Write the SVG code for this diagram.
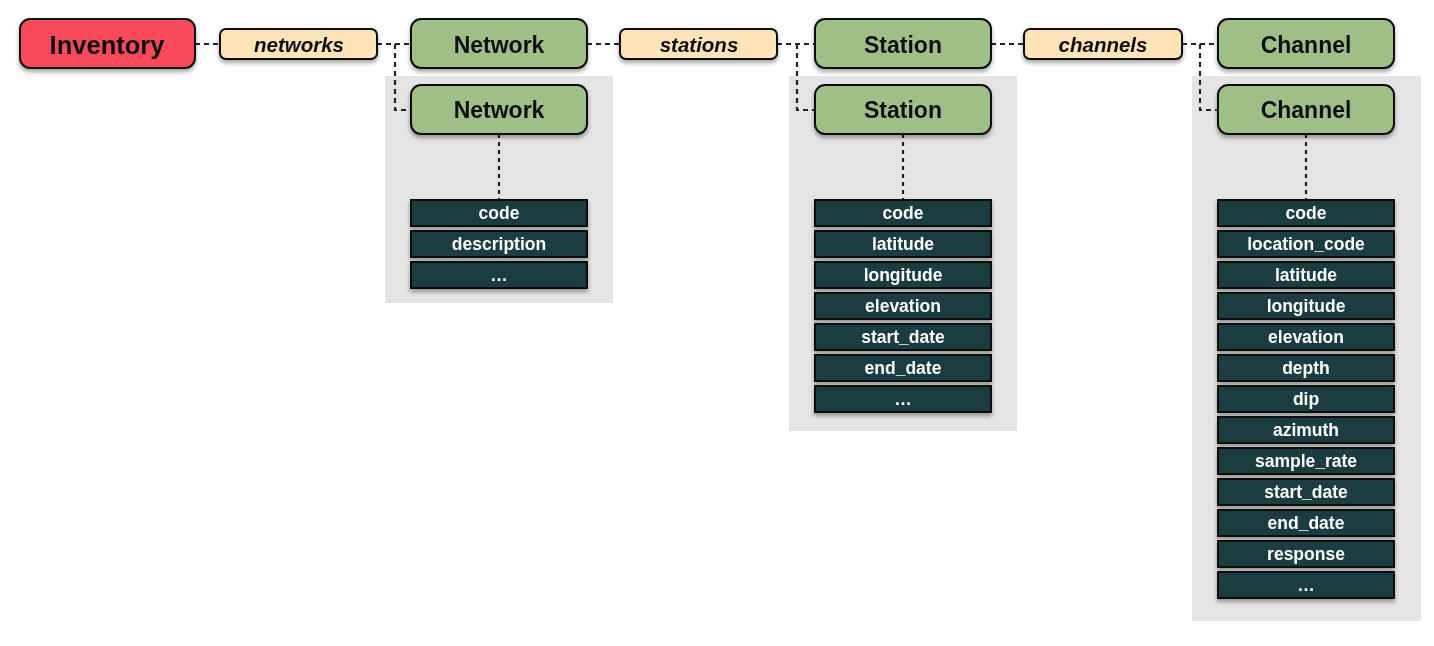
<svg xmlns="http://www.w3.org/2000/svg" width="1434" height="646" viewBox="0 0 1434 646">
<style>
.node{stroke:#111;stroke-width:2}
.inv{fill:#f84a5a}
.obj{fill:#9fbf87}
.lab{fill:#fce4b8}
.fld{fill:#1b3c40;stroke:#111;stroke-width:2}
.panel{fill:#e4e4e4}
.t{font-family:"Liberation Sans",Arial,sans-serif;font-weight:bold;text-anchor:middle;dominant-baseline:central}
.tn{font-size:23px;fill:#111}
.ti{font-size:25.5px;fill:#111}
.tl{font-size:20.5px;fill:#111;font-style:italic}
.tf{font-size:17.5px;fill:#fff}
.c{fill:none;stroke:#222;stroke-width:2.2;stroke-dasharray:5,4}
.cv{fill:none;stroke:#222;stroke-width:2.2;stroke-dasharray:4,4}
</style>
<defs>
<filter id="sh" x="-10%" y="-20%" width="120%" height="160%">
<feDropShadow dx="0" dy="3" stdDeviation="2" flood-color="#000" flood-opacity="0.35"/>
</filter>
</defs>
<rect width="1434" height="646" fill="#fff"/>
<g id="panels">
<rect class="panel" x="385" y="76" width="228" height="227"/>
<rect class="panel" x="789" y="76" width="228" height="355"/>
<rect class="panel" x="1192" y="76" width="229" height="545"/>
</g>
<g id="connectors">
<path class="c" d="M195,44 H220"/>
<path class="c" d="M377,44 H411"/>
<path class="c" d="M395,44 V110 H411"/>
<path class="cv" d="M499,134 V200"/>
<path class="c" d="M587,44 H620"/>
<path class="c" d="M777,44 H815"/>
<path class="c" d="M797,44 V110 H815"/>
<path class="cv" d="M903,134 V200"/>
<path class="c" d="M991,44 H1024"/>
<path class="c" d="M1182,44 H1218"/>
<path class="c" d="M1200,44 V110 H1218"/>
<path class="cv" d="M1306,134 V200"/>
</g>
<g id="inventory" filter="url(#sh)"><rect class="node inv" x="20" y="19" width="175" height="49" rx="10"/><text class="t ti" x="107" y="45">Inventory</text></g>
<g id="lbl-networks" filter="url(#sh)"><rect class="node lab" x="220" y="29" width="157" height="30" rx="6"/><text class="t tl" x="299" y="44">networks</text></g>
<g id="network" filter="url(#sh)"><rect class="node obj" x="411" y="19" width="176" height="49" rx="10"/><text class="t tn" x="499" y="45">Network</text></g>
<g id="lbl-stations" filter="url(#sh)"><rect class="node lab" x="620" y="29" width="157" height="30" rx="6"/><text class="t tl" x="699" y="44">stations</text></g>
<g id="station" filter="url(#sh)"><rect class="node obj" x="815" y="19" width="176" height="49" rx="10"/><text class="t tn" x="903" y="45">Station</text></g>
<g id="lbl-channels" filter="url(#sh)"><rect class="node lab" x="1024" y="29" width="158" height="30" rx="6"/><text class="t tl" x="1103" y="44">channels</text></g>
<g id="channel" filter="url(#sh)"><rect class="node obj" x="1218" y="19" width="176" height="49" rx="10"/><text class="t tn" x="1306" y="45">Channel</text></g>

<g id="network-item" filter="url(#sh)"><rect class="node obj" x="411" y="85" width="176" height="49" rx="10"/><text class="t tn" x="499" y="110">Network</text></g>
<g id="station-item" filter="url(#sh)"><rect class="node obj" x="815" y="85" width="176" height="49" rx="10"/><text class="t tn" x="903" y="110">Station</text></g>
<g id="channel-item" filter="url(#sh)"><rect class="node obj" x="1218" y="85" width="176" height="49" rx="10"/><text class="t tn" x="1306" y="110">Channel</text></g>

<g id="network-fields" filter="url(#sh)">
<rect class="fld" x="411" y="200" width="176" height="26"/><text class="t tf" x="499" y="213">code</text>
<rect class="fld" x="411" y="231" width="176" height="26"/><text class="t tf" x="499" y="244">description</text>
<rect class="fld" x="411" y="262" width="176" height="26"/><text class="t tf" x="499" y="275">…</text>
</g>
<g id="station-fields" filter="url(#sh)">
<rect class="fld" x="815" y="200" width="176" height="26"/><text class="t tf" x="903" y="213">code</text>
<rect class="fld" x="815" y="231" width="176" height="26"/><text class="t tf" x="903" y="244">latitude</text>
<rect class="fld" x="815" y="262" width="176" height="26"/><text class="t tf" x="903" y="275">longitude</text>
<rect class="fld" x="815" y="293" width="176" height="26"/><text class="t tf" x="903" y="306">elevation</text>
<rect class="fld" x="815" y="324" width="176" height="26"/><text class="t tf" x="903" y="337">start_date</text>
<rect class="fld" x="815" y="355" width="176" height="26"/><text class="t tf" x="903" y="368">end_date</text>
<rect class="fld" x="815" y="386" width="176" height="26"/><text class="t tf" x="903" y="399">…</text>
</g>
<g id="channel-fields" filter="url(#sh)">
<rect class="fld" x="1218" y="200" width="176" height="26"/><text class="t tf" x="1306" y="213">code</text>
<rect class="fld" x="1218" y="231" width="176" height="26"/><text class="t tf" x="1306" y="244">location_code</text>
<rect class="fld" x="1218" y="262" width="176" height="26"/><text class="t tf" x="1306" y="275">latitude</text>
<rect class="fld" x="1218" y="293" width="176" height="26"/><text class="t tf" x="1306" y="306">longitude</text>
<rect class="fld" x="1218" y="324" width="176" height="26"/><text class="t tf" x="1306" y="337">elevation</text>
<rect class="fld" x="1218" y="355" width="176" height="26"/><text class="t tf" x="1306" y="368">depth</text>
<rect class="fld" x="1218" y="386" width="176" height="26"/><text class="t tf" x="1306" y="399">dip</text>
<rect class="fld" x="1218" y="417" width="176" height="26"/><text class="t tf" x="1306" y="430">azimuth</text>
<rect class="fld" x="1218" y="448" width="176" height="26"/><text class="t tf" x="1306" y="461">sample_rate</text>
<rect class="fld" x="1218" y="479" width="176" height="26"/><text class="t tf" x="1306" y="492">start_date</text>
<rect class="fld" x="1218" y="510" width="176" height="26"/><text class="t tf" x="1306" y="523">end_date</text>
<rect class="fld" x="1218" y="541" width="176" height="26"/><text class="t tf" x="1306" y="554">response</text>
<rect class="fld" x="1218" y="572" width="176" height="26"/><text class="t tf" x="1306" y="585">…</text>
</g>
</svg>
